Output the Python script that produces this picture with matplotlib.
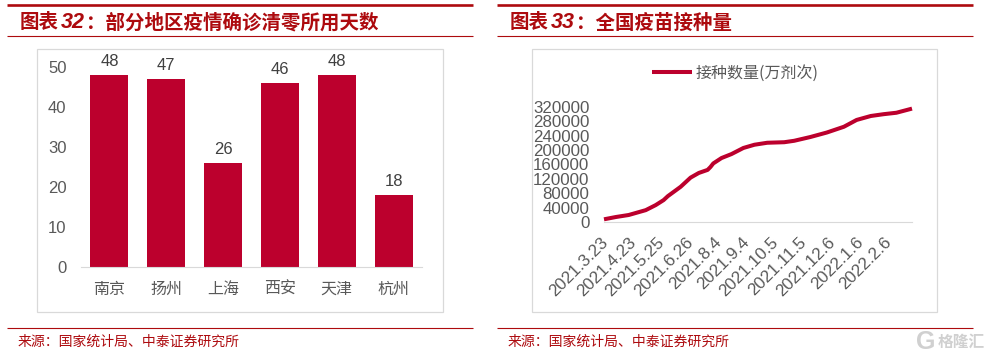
import matplotlib
matplotlib.use("Agg")
import matplotlib.pyplot as plt
from matplotlib.patches import Rectangle
from matplotlib.transforms import ScaledTranslation

W, H = 991, 358
CJK = ['Noto Sans CJK SC', 'DejaVu Sans']
LAT = 'Liberation Sans'
RED = '#AD0A0E'
BAR = '#BC002D'
GREY = '#595959'

cities = ['南京', '扬州', '上海', '西安', '天津', '杭州']
days = [48, 47, 26, 46, 48, 18]

date_labels = ['2021.3.23', '2021.4.23', '2021.5.25', '2021.6.26', '2021.8.4', '2021.9.4',
               '2021.10.5', '2021.11.5', '2021.12.6', '2022.1.6', '2022.2.6']
pos = [0.0, 0.42, 0.87, 1.47, 1.82, 2.1, 2.25, 2.7, 3.05, 3.34, 3.65, 3.75, 3.85, 4.14,
       4.49, 4.91, 5.3, 5.75, 6.35, 6.7, 7.27, 7.85, 8.45, 8.9, 9.4, 9.85, 10.3, 10.85]
doses = [7500, 13900, 19500, 33000, 47000, 61000, 72000, 98000, 123500, 136500, 145000, 153000,
         163000, 178000, 189000, 206000, 215000, 220500, 222000, 226000, 236500, 249000,
         265000, 284000, 295000, 300000, 304000, 315500]
y_ticks = list(range(0, 320001, 40000))

fig = plt.figure(figsize=(W / 100, H / 100), dpi=100, facecolor='white')


def axes_px(x0, x1, y_top, y_bottom, **kw):
    return fig.add_axes([x0 / W, 1 - y_bottom / H, (x1 - x0) / W, (y_bottom - y_top) / H], **kw)


bg = axes_px(0, W, 0, H)
bg.set_xlim(0, W)
bg.set_ylim(H, 0)
bg.axis('off')


def frame(x0, x1, bx0, bx1):
    bg.plot([x0, x1], [5, 5], color=RED, lw=1.9, solid_capstyle='butt')
    bg.plot([x0, x1], [36, 36], color=RED, lw=0.8, solid_capstyle='butt')
    bg.plot([x0, x1], [327.5, 327.5], color=RED, lw=0.8, solid_capstyle='butt')
    bg.add_patch(Rectangle((bx0, 48.5), bx1 - bx0, 263, fc='white', ec='#D9D9D9', lw=0.9))


def header(x, num, num_x, rest, rest_x):
    bg.text(x, 23, '图表', family=CJK, fontsize=14, style='italic', fontweight='bold',
            color=RED, ha='left', va='center')
    bg.text(num_x, 23, num, family=LAT, fontsize=15.5, style='italic', fontweight='bold',
            color=RED, ha='left', va='center')
    bg.text(rest_x, 23, rest, family=CJK, fontsize=14, fontweight='bold',
            color=RED, ha='left', va='center')


frame(7, 473, 36.5, 442.5)
frame(497, 973, 531.5, 937)
header(20, '32', 61, '：部分地区疫情确诊清零所用天数', 86)
header(510, '33', 551, '：全国疫苗接种量', 576)
source = '来源：国家统计局、中泰证券研究所'
bg.text(18, 342, source, family=CJK, fontsize=10, color=RED, ha='left', va='center')
bg.text(508, 342, source, family=CJK, fontsize=10, color=RED, ha='left', va='center')
bg.text(916, 342, 'G', family=LAT, fontsize=18, fontweight='bold', color='#D0D0D0', ha='left', va='center')
bg.text(938, 342, '格隆汇', family=CJK, fontsize=11.3, fontweight='bold', color='#D0D0D0', ha='left', va='center')

# Left chart
ax = axes_px(81, 422, 67, 267)
ax.patch.set_alpha(0)
ax.bar(range(len(days)), days, width=0.67, color=BAR)
ax.set_xlim(-0.5, 5.5)
ax.set_ylim(0, 50)
for s in ['top', 'right', 'left']:
    ax.spines[s].set_visible(False)
ax.spines['bottom'].set_color('#D9D9D9')
ax.spines['bottom'].set_linewidth(0.8)
ax.set_yticks(range(0, 51, 10))
ax.tick_params(axis='y', length=0, pad=10.5, labelsize=12, labelcolor=GREY)
for t in ax.get_yticklabels():
    t.set_family(LAT)
ax.set_xticks(range(len(cities)), cities, family=CJK, fontsize=11.5, color=GREY)
ax.tick_params(axis='x', length=0, pad=10)
for i, v in enumerate(days):
    ax.text(i, v + 1.45, str(v), family=LAT, fontsize=12, color='#404040', ha='center', va='bottom', clip_on=False)

# Right chart
ax2 = axes_px(604, 912, 107, 222)
ax2.patch.set_alpha(0)
line, = ax2.plot(pos, doses, color=BAR, lw=2.9, solid_capstyle='butt', solid_joinstyle='round', label='接种数量(万剂次)', clip_on=False)
ax2.set_xlim(0, 10.85)
ax2.set_ylim(0, 320000)
for s in ['top', 'right', 'left']:
    ax2.spines[s].set_visible(False)
ax2.spines['bottom'].set_color('#D9D9D9')
ax2.spines['bottom'].set_linewidth(0.8)
ax2.set_yticks(y_ticks)
ax2.tick_params(axis='y', length=0, pad=10.5, labelsize=12.2, labelcolor=GREY)
for t in ax2.get_yticklabels():
    t.set_family(LAT)
ax2.set_xticks(range(len(date_labels)), date_labels, family=LAT, fontsize=12.3, color=GREY,
               rotation=45, ha='right', rotation_mode='anchor')
ax2.tick_params(axis='x', length=0, pad=9)
shift = ScaledTranslation(-4 / 100, 0, fig.dpi_scale_trans)
for t in ax2.get_xticklabels():
    t.set_transform(t.get_transform() + shift)
ax2.legend(handles=[line], loc='center', bbox_to_anchor=((735.5 - 604) / 308, (222 - 73) / 115),
           frameon=False, handlelength=2.45, handletextpad=0.25, borderpad=0, borderaxespad=0,
           prop={'family': CJK, 'size': 11.5}, labelcolor=GREY)

fig.savefig('out.png', dpi=100, facecolor='white')
